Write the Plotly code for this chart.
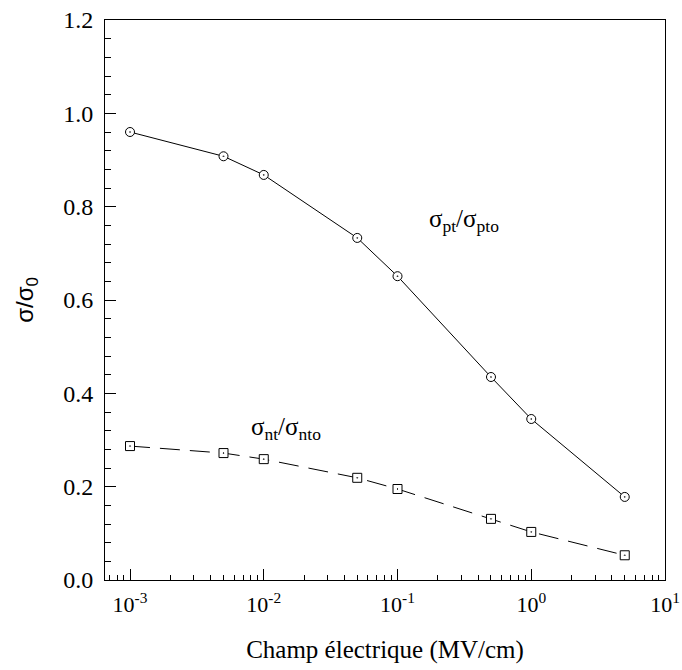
import math
import plotly.graph_objects as go

field = [0.001, 0.005, 0.01, 0.05, 0.1, 0.5, 1, 5]
sigma_pt = [0.960, 0.908, 0.868, 0.733, 0.651, 0.435, 0.345, 0.178]
sigma_nt = [0.287, 0.272, 0.259, 0.219, 0.195, 0.131, 0.103, 0.053]
x_tick_vals = [0.001, 0.01, 0.1, 1, 10]
x_tick_text = ["10<sup>-3</sup>", "10<sup>-2</sup>", "10<sup>-1</sup>", "10<sup>0</sup>", "10<sup>1</sup>"]

SERIF = "Liberation Serif"
SANS = "Liberation Sans"

minor_vals = [m * d for d in [0.0001, 0.001, 0.01, 0.1, 1] for m in range(2, 10)]

fig = go.Figure()
fig.add_trace(go.Scatter(
    x=field, y=sigma_pt, mode="lines+markers",
    line=dict(color="black", width=1),
    marker=dict(symbol="circle-dot", size=9, color="white",
                line=dict(color="black", width=1)),
    showlegend=False))
fig.add_trace(go.Scatter(
    x=field, y=sigma_nt, mode="lines+markers",
    line=dict(color="black", width=1, dash="20px,10px"),
    marker=dict(symbol="square-dot", size=9, color="white",
                line=dict(color="black", width=1)),
    showlegend=False))

fig.add_annotation(x=math.log10(0.165), y=0.77, xref="x", yref="y", xanchor="left", yanchor="middle",
                   text="σ<sub>pt</sub>/σ<sub>pto</sub>", showarrow=False,
                   font=dict(family=SERIF, size=25, color="black"))
fig.add_annotation(x=math.log10(0.0078), y=0.325, xref="x", yref="y", xanchor="left", yanchor="middle",
                   text="σ<sub>nt</sub>/σ<sub>nto</sub>", showarrow=False,
                   font=dict(family=SERIF, size=25, color="black"))

fig.update_layout(
    width=682, height=670,
    margin=dict(l=105, r=17, t=20, b=90),
    plot_bgcolor="white", paper_bgcolor="white",
    font=dict(family=SERIF, size=20, color="black"),
    xaxis=dict(
        type="log", range=[-3.187, 1], automargin=False,
        tickmode="array", tickvals=x_tick_vals, ticktext=x_tick_text,
        tickfont=dict(family=SERIF, size=22, color="black"),
        ticklabelstandoff=5,
        ticks="inside", ticklen=11, tickwidth=1, tickcolor="black",
        minor=dict(tickmode="array", tickvals=minor_vals, ticks="inside", ticklen=5,
                   tickwidth=1, tickcolor="black", showgrid=False),
        showline=True, linecolor="black", linewidth=1, mirror=True,
        showgrid=False, zeroline=False,
        title=dict(text="Champ électrique (MV/cm)", standoff=24,
                   font=dict(family=SERIF, size=25, color="black")),
    ),
    yaxis=dict(
        range=[0, 1.2], dtick=0.2, tickformat=".1f", automargin=False,
        tickfont=dict(family=SERIF, size=24, color="black"),
        ticklabelstandoff=6,
        ticks="inside", ticklen=11, tickwidth=1, tickcolor="black",
        minor=dict(dtick=0.04, ticks="inside", ticklen=6, tickwidth=1,
                   tickcolor="black", showgrid=False),
        showline=True, linecolor="black", linewidth=1, mirror=True,
        showgrid=False, zeroline=False,
        title=dict(text="σ/σ<sub>0</sub>", standoff=22,
                   font=dict(family=SANS, size=24, color="black")),
    ),
)

fig.write_html("out.html")
